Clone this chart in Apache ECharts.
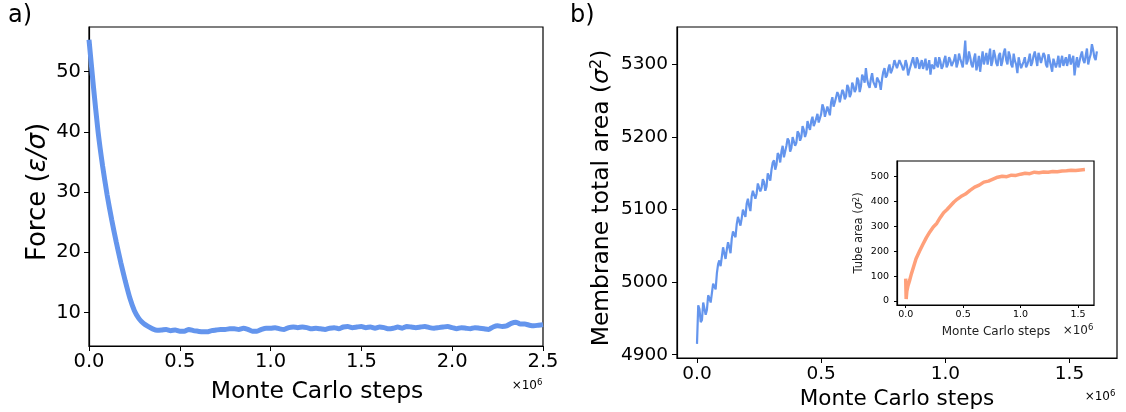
<!DOCTYPE html>
<html>
<head>
<meta charset="utf-8">
<script src="https://cdn.jsdelivr.net/npm/echarts@6/dist/echarts.min.js"></script>
<style>
html,body{margin:0;padding:0;background:#fff;}
#c{width:1126px;height:412px;}
</style>
</head>
<body>
<div id="c"></div>
<script>
// ---------- DATA ----------
// Panel a): Force vs Monte Carlo steps (x in units of 1e6), sampled every 0.025e6
const forceStep = 0.025;
const forceValues = [
  55.3, 47.3, 40.0, 34.3, 29.5, 25.4, 21.7, 18.3, 15.2, 12.4,
  10.3, 9.0, 8.2, 7.7, 7.3, 7.05, 7.1, 7.2, 7.0, 7.1,
  6.9, 6.9, 7.2, 7.0, 6.9, 6.8, 6.8, 7.0, 7.1, 7.2,
  7.2, 7.3, 7.3, 7.2, 7.4, 7.2, 6.9, 6.9, 7.2, 7.4,
  7.4, 7.5, 7.3, 7.2, 7.5, 7.6, 7.5, 7.6, 7.5, 7.3,
  7.4, 7.3, 7.2, 7.4, 7.5, 7.3, 7.6, 7.7, 7.5, 7.6,
  7.7, 7.5, 7.6, 7.4, 7.6, 7.5, 7.3, 7.4, 7.6, 7.4,
  7.7, 7.6, 7.5, 7.6, 7.7, 7.5, 7.4, 7.5, 7.6, 7.7,
  7.5, 7.3, 7.5, 7.4, 7.3, 7.5, 7.4, 7.3, 7.2, 7.6,
  7.8, 7.7, 7.8, 8.2, 8.4, 8.1, 8.1, 7.9, 7.8, 7.9,
  8.0
];

// Panel b): Membrane total area, sampled every 0.01e6 (areaValues at i*0.01, areaMid at i*0.01+0.005)
const areaStep = 0.01;
const areaValues = [
  4915, 4963, 4948, 4970, 4962, 4978, 4985, 5000, 5012, 5030,
  5035, 5040, 5045, 5048, 5060, 5072, 5080, 5092, 5088, 5098,
  5108, 5105, 5118, 5128, 5122, 5135, 5130, 5138, 5132, 5145,
  5155, 5168, 5162, 5175, 5180, 5172, 5188, 5195, 5185, 5198,
  5192, 5205, 5200, 5210, 5206, 5215, 5222, 5215, 5226, 5220,
  5232, 5240, 5230, 5236, 5248, 5242, 5255, 5258, 5250, 5262,
  5256, 5268, 5260, 5270, 5266, 5278, 5270, 5282, 5295, 5272,
  5280, 5276, 5268, 5284, 5265, 5290, 5282, 5294, 5288, 5298,
  5305, 5296, 5302, 5292, 5306, 5285, 5298, 5310, 5295, 5305,
  5300, 5294, 5308, 5298, 5286, 5302, 5310, 5296, 5304, 5298,
  5312, 5300, 5306, 5296, 5314, 5302, 5308, 5296, 5333, 5305,
  5310, 5296, 5315, 5300, 5290, 5318, 5308, 5300, 5322, 5305,
  5312, 5298, 5316, 5305, 5322, 5300, 5312, 5296, 5305, 5288,
  5302, 5295, 5310, 5300, 5315, 5303, 5318, 5298, 5310, 5300,
  5312, 5296, 5306, 5290, 5310, 5302, 5296, 5312, 5304, 5298,
  5314, 5300, 5285, 5310, 5304, 5318, 5302, 5322, 5308, 5328,
  5310, 5318
];
const areaMid = [
  4968, 4945, 4972, 4955, 4982, 4972, 4998, 4990, 5025, 5022,
  5048, 5032, 5055, 5040, 5070, 5062, 5090, 5078, 5100, 5090,
  5115, 5098, 5126, 5115, 5136, 5125, 5142, 5126, 5150, 5140,
  5165, 5155, 5178, 5165, 5188, 5180, 5198, 5180, 5200, 5188,
  5208, 5195, 5215, 5200, 5222, 5210, 5228, 5220, 5232, 5222,
  5245, 5228, 5242, 5230, 5255, 5248, 5262, 5248, 5265, 5252,
  5272, 5255, 5275, 5262, 5282, 5262, 5286, 5275, 5280, 5268,
  5288, 5272, 5282, 5275, 5280, 5295, 5285, 5300, 5292, 5306,
  5295, 5306, 5298, 5296, 5300, 5292, 5304, 5300, 5310, 5294,
  5306, 5300, 5292, 5306, 5300, 5294, 5300, 5310, 5294, 5306,
  5296, 5310, 5298, 5306, 5296, 5315, 5302, 5312, 5300, 5318,
  5300, 5308, 5292, 5312, 5305, 5300, 5316, 5310, 5298, 5320,
  5302, 5312, 5298, 5316, 5306, 5318, 5300, 5315, 5300, 5310,
  5295, 5304, 5296, 5306, 5298, 5312, 5308, 5316, 5302, 5316,
  5300, 5314, 5298, 5308, 5296, 5312, 5304, 5298, 5310, 5306,
  5300, 5312, 5300, 5296, 5312, 5306, 5312, 5300, 5314, 5320,
  5306
];

// Inset: Tube area
const insetSteps = [0, 0.004, 0.01, 0.02, 0.035, 0.05, 0.07, 0.09, 0.12, 0.15, 0.18, 0.21, 0.24, 0.27, 0.30, 0.33,
  0.36, 0.39, 0.42, 0.45, 0.48, 0.52, 0.56, 0.60, 0.64, 0.68, 0.72, 0.76, 0.80, 0.84, 0.88, 0.92,
  0.96, 1.00, 1.04, 1.08, 1.12, 1.16, 1.20, 1.24, 1.28, 1.32, 1.36, 1.40, 1.44, 1.48, 1.52, 1.56];
const insetArea = [90, 8, 40, 62, 84, 110, 140, 170, 200, 228, 255, 278, 298, 312, 335, 355,
  368, 383, 398, 410, 420, 430, 445, 458, 466, 478, 482, 490, 498, 502, 500, 506,
  505, 510, 514, 512, 518, 516, 519, 518, 521, 520, 523, 524, 526, 525, 527, 529];

// Tick labels
const forceXTicks = [0, 0.5, 1.0, 1.5, 2.0, 2.5];
const forceYTicks = [10, 20, 30, 40, 50];
const areaXTicks = [0, 0.5, 1.0, 1.5];
const areaYTicks = [4900, 5000, 5100, 5200, 5300];
const insetXTicks = [0, 0.5, 1.0, 1.5];
const insetYTicks = [0, 100, 200, 300, 400, 500];

// ---------- BUILD ----------
const forceData = forceValues.map((v, i) => [i * forceStep, v]);
const areaData = [];
areaValues.forEach((v, i) => {
  areaData.push([i * areaStep, v]);
  if (i < areaMid.length && i < areaValues.length - 1) areaData.push([i * areaStep + areaStep / 2, areaMid[i]]);
});
const insetData = insetSteps.map((x, i) => [x, insetArea[i]]);

const FONT = 'DejaVu Sans';
const BLACK = '#000';

function xAxisCfg(gi, min, max, ticks, fs, margin, tickLen) {
  return {
    type: 'value', gridIndex: gi, min: min, max: max,
    axisLine: {show: true, onZero: false, lineStyle: {color: BLACK, width: 1.2}},
    axisTick: {show: true, length: tickLen, customValues: ticks, lineStyle: {color: BLACK, width: 1}},
    axisLabel: {show: true, customValues: ticks, formatter: v => v.toFixed(1), fontFamily: FONT, fontSize: fs, color: BLACK, margin: margin},
    splitLine: {show: false}
  };
}
function yAxisCfg(gi, min, max, ticks, fs, margin, tickLen) {
  return {
    type: 'value', gridIndex: gi, min: min, max: max,
    axisLine: {show: true, onZero: false, lineStyle: {color: BLACK, width: 1.2}},
    axisTick: {show: true, length: tickLen, customValues: ticks, lineStyle: {color: BLACK, width: 1}},
    axisLabel: {show: true, customValues: ticks, formatter: v => String(v), fontFamily: FONT, fontSize: fs, color: BLACK, margin: margin},
    splitLine: {show: false}
  };
}

const gridBase = {show: true, borderColor: BLACK, borderWidth: 1.2, backgroundColor: 'transparent', containLabel: false};

const option = {
  animation: false,
  backgroundColor: '#fff',
  grid: [
    Object.assign({left: 89, top: 27, width: 454, height: 319}, gridBase),
    Object.assign({left: 677, top: 27, width: 440, height: 331}, gridBase),
    Object.assign({left: 897, top: 161, width: 197, height: 144}, gridBase, {backgroundColor: '#fff'})
  ],
  xAxis: [
    xAxisCfg(0, 0, 2.5, forceXTicks, 19.5, 6, 5),
    xAxisCfg(1, -0.0805, 1.691, areaXTicks, 18.5, 7, 5),
    xAxisCfg(2, -0.0757, 1.639, insetXTicks, 9.5, 5, 3)
  ],
  yAxis: [
    yAxisCfg(0, 4.45, 57.4, forceYTicks, 19.5, 8, 5),
    yAxisCfg(1, 4895.5, 5351.7, areaYTicks, 18.5, 9, 5),
    yAxisCfg(2, -16, 563, insetYTicks, 9.5, 8, 3)
  ],
  series: [
    {type: 'line', xAxisIndex: 0, yAxisIndex: 0, data: forceData, showSymbol: false, smooth: 0.2,
      lineStyle: {color: '#6495ED', width: 5}, z: 3},
    {type: 'line', xAxisIndex: 1, yAxisIndex: 1, data: areaData, showSymbol: false,
      lineStyle: {color: '#6495ED', width: 2.2}, z: 3},
    {type: 'line', xAxisIndex: 2, yAxisIndex: 2, data: insetData, showSymbol: false,
      lineStyle: {color: '#FFA07A', width: 3.5}, z: 5}
  ],
  graphic: [
    {type: 'text', left: 8, top: 4, style: {text: 'a)', font: '24px "DejaVu Sans"', fill: BLACK}},
    {type: 'text', left: 570, top: 4, style: {text: 'b)', font: '24px "DejaVu Sans"', fill: BLACK}},
    {type: 'text', x: 38, y: 192, rotation: Math.PI / 2,
      style: {text: '{n|Force (}{i|ε/σ}{n|)}', align: 'center', verticalAlign: 'middle',
        rich: {n: {fontFamily: FONT, fontSize: 26, fill: BLACK}, i: {fontFamily: FONT, fontSize: 26, fontStyle: 'italic', fill: BLACK}}}},
    {type: 'text', x: 317, y: 392,
      style: {text: 'Monte Carlo steps', align: 'center', verticalAlign: 'middle', fontFamily: FONT, fontSize: 23.5, fill: BLACK}},
    {type: 'text', x: 527, y: 386,
      style: {text: '{n|×10}{s|6}', align: 'center', verticalAlign: 'middle',
        rich: {n: {fontFamily: FONT, fontSize: 12, fill: BLACK}, s: {fontFamily: FONT, fontSize: 8.5, fill: BLACK, padding: [0, 0, 6, 0]}}}},
    {type: 'text', x: 602, y: 198, rotation: Math.PI / 2,
      style: {text: '{n|Membrane total area (}{i|σ}{s|2}{n|)}', align: 'center', verticalAlign: 'middle',
        rich: {n: {fontFamily: FONT, fontSize: 23.4, fill: BLACK}, i: {fontFamily: FONT, fontSize: 23.4, fontStyle: 'italic', fill: BLACK},
          s: {fontFamily: FONT, fontSize: 16, fill: BLACK, padding: [0, 0, 10, 0]}}}},
    {type: 'text', x: 897, y: 399,
      style: {text: 'Monte Carlo steps', align: 'center', verticalAlign: 'middle', fontFamily: FONT, fontSize: 21.5, fill: BLACK}},
    {type: 'text', x: 1100, y: 397,
      style: {text: '{n|×10}{s|6}', align: 'center', verticalAlign: 'middle',
        rich: {n: {fontFamily: FONT, fontSize: 12, fill: BLACK}, s: {fontFamily: FONT, fontSize: 8.5, fill: BLACK, padding: [0, 0, 6, 0]}}}},
    {type: 'text', x: 859, y: 233, rotation: Math.PI / 2, z: 10,
      style: {text: '{n|Tube area (}{i|σ}{s|2}{n|)}', align: 'center', verticalAlign: 'middle',
        rich: {n: {fontFamily: FONT, fontSize: 11.5, fill: '#222'}, i: {fontFamily: FONT, fontSize: 11.5, fontStyle: 'italic', fill: '#222'},
          s: {fontFamily: FONT, fontSize: 8, fill: '#222', padding: [0, 0, 5, 0]}}}},
    {type: 'text', x: 996, y: 332, z: 10,
      style: {text: 'Monte Carlo steps', align: 'center', verticalAlign: 'middle', fontFamily: FONT, fontSize: 12, fill: '#222'}},
    {type: 'text', x: 1078, y: 331, z: 10,
      style: {text: '{n|×10}{s|6}', align: 'center', verticalAlign: 'middle',
        rich: {n: {fontFamily: FONT, fontSize: 12, fill: '#222'}, s: {fontFamily: FONT, fontSize: 8.5, fill: '#222', padding: [0, 0, 6, 0]}}}}
  ]
};

const chart = echarts.init(document.getElementById('c'), null, {renderer: 'canvas'});
chart.setOption(option);
</script>
</body>
</html>
